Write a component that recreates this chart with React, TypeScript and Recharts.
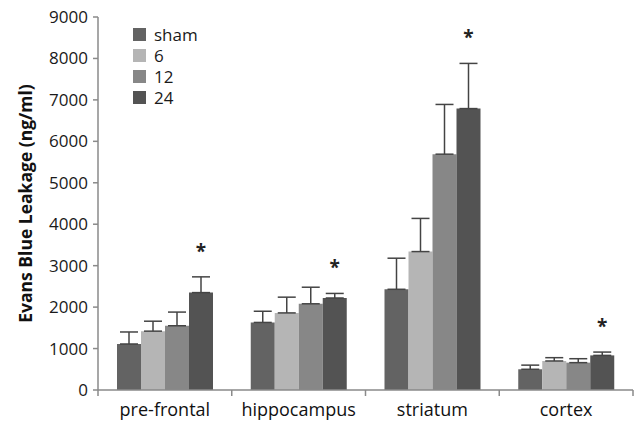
import React from 'react';
import { BarChart, Bar, XAxis, YAxis, ErrorBar, LabelList } from 'recharts';

const categories = ['pre-frontal', 'hippocampus', 'striatum', 'cortex'];
const shamValues = [1110, 1630, 2430, 500];
const shamErrors = [290, 270, 750, 100];
const sixValues = [1420, 1860, 3340, 700];
const sixErrors = [240, 380, 800, 80];
const twelveValues = [1550, 2080, 5690, 660];
const twelveErrors = [330, 400, 1200, 95];
const twentyFourValues = [2350, 2220, 6790, 835];
const twentyFourErrors = [380, 110, 1090, 80];
const yTicks = [0, 1000, 2000, 3000, 4000, 5000, 6000, 7000, 8000, 9000];

const series = [
  { key: 'sham', name: 'sham', color: '#636363' },
  { key: 'six', name: '6', color: '#b5b5b5' },
  { key: 'twelve', name: '12', color: '#878787' },
  { key: 'twentyFour', name: '24', color: '#535353' },
];

const data = categories.map((name, i) => ({
  name,
  sham: shamValues[i],
  shamErr: [0, shamErrors[i]],
  six: sixValues[i],
  sixErr: [0, sixErrors[i]],
  twelve: twelveValues[i],
  twelveErr: [0, twelveErrors[i]],
  twentyFour: twentyFourValues[i],
  twentyFourErr: [0, twentyFourErrors[i]],
}));

const W = 634;
const H = 423;
const LEFT = 98;
const RIGHT = 1;
const BAND = (W - LEFT - RIGHT) / categories.length;
const FONT = '"Open Sans", sans-serif';

const CategoryTick = (props: any) => {
  const { x, y, payload, index } = props;
  const left = x - BAND / 2;
  return (
    <g>
      <line x1={left} x2={left} y1={y} y2={y + 6} stroke="#8a8a8a" strokeWidth={1.5} />
      {index === categories.length - 1 && (
        <line x1={x + BAND / 2} x2={x + BAND / 2} y1={y} y2={y + 6} stroke="#8a8a8a" strokeWidth={1.5} />
      )}
      <text x={x} y={y + 26} textAnchor="middle" fontSize={18} fill="#111" fontFamily={FONT}>
        {payload.value}
      </text>
    </g>
  );
};

// asterisk sits above the error bar of the 24 h bar
const Star = (props: any) => {
  const { x, y, width, height, value, index } = props;
  const errTop = y - (twentyFourErrors[index] / value) * height;
  return (
    <text x={x + width / 2} y={errTop - 19} textAnchor="middle" fontSize={19} fontWeight="bold" fill="#222" fontFamily={FONT}>
      *
    </text>
  );
};

export default function App() {
  return (
    <div style={{ position: 'absolute', left: 0, top: 0, width: W, height: H, background: '#fff' }}>
      <BarChart
        width={W}
        height={H}
        data={data}
        margin={{ top: 17, right: RIGHT, bottom: 0, left: 0 }}
        barGap={0}
        barSize={24}
      >
        <XAxis
          dataKey="name"
          axisLine={{ stroke: '#8a8a8a', strokeWidth: 1.5 }}
          tickLine={false}
          tickSize={0}
          tickMargin={0}
          interval={0}
          tick={<CategoryTick />}
          height={33}
        />
        <YAxis
          width={LEFT}
          domain={[0, 9000]}
          ticks={yTicks}
          interval={0}
          axisLine={{ stroke: '#8a8a8a', strokeWidth: 1.5 }}
          tickLine={{ stroke: '#8a8a8a', strokeWidth: 1.5 }}
          tickSize={5}
          tickMargin={5}
          tick={{ fontSize: 17, fill: '#1a1a1a', fontFamily: FONT }}
          label={{
            value: 'Evans Blue Leakage (ng/ml)',
            angle: -90,
            position: 'insideLeft',
            offset: 26,
            style: { textAnchor: 'middle', fontSize: 17.5, fontWeight: 'bold', fill: '#111', fontFamily: FONT },
          }}
        />
        {series.map((s) => (
          <Bar key={s.key} dataKey={s.key} name={s.name} fill={s.color} isAnimationActive={false}>
            <ErrorBar dataKey={`${s.key}Err`} width={9} stroke="#444" strokeWidth={1.5} direction="y" />
            {s.key === 'twentyFour' && <LabelList dataKey="twentyFour" content={<Star />} />}
          </Bar>
        ))}
      </BarChart>
      <div style={{ position: 'absolute', left: 133, top: 24, fontFamily: FONT, fontSize: 17, color: '#1a1a1a' }}>
        {series.map((s) => (
          <div key={s.key} style={{ display: 'flex', alignItems: 'center', height: 21 }}>
            <span style={{ width: 13, height: 13, background: s.color, display: 'inline-block', marginRight: 8 }} />
            <span>{s.name}</span>
          </div>
        ))}
      </div>
    </div>
  );
}
